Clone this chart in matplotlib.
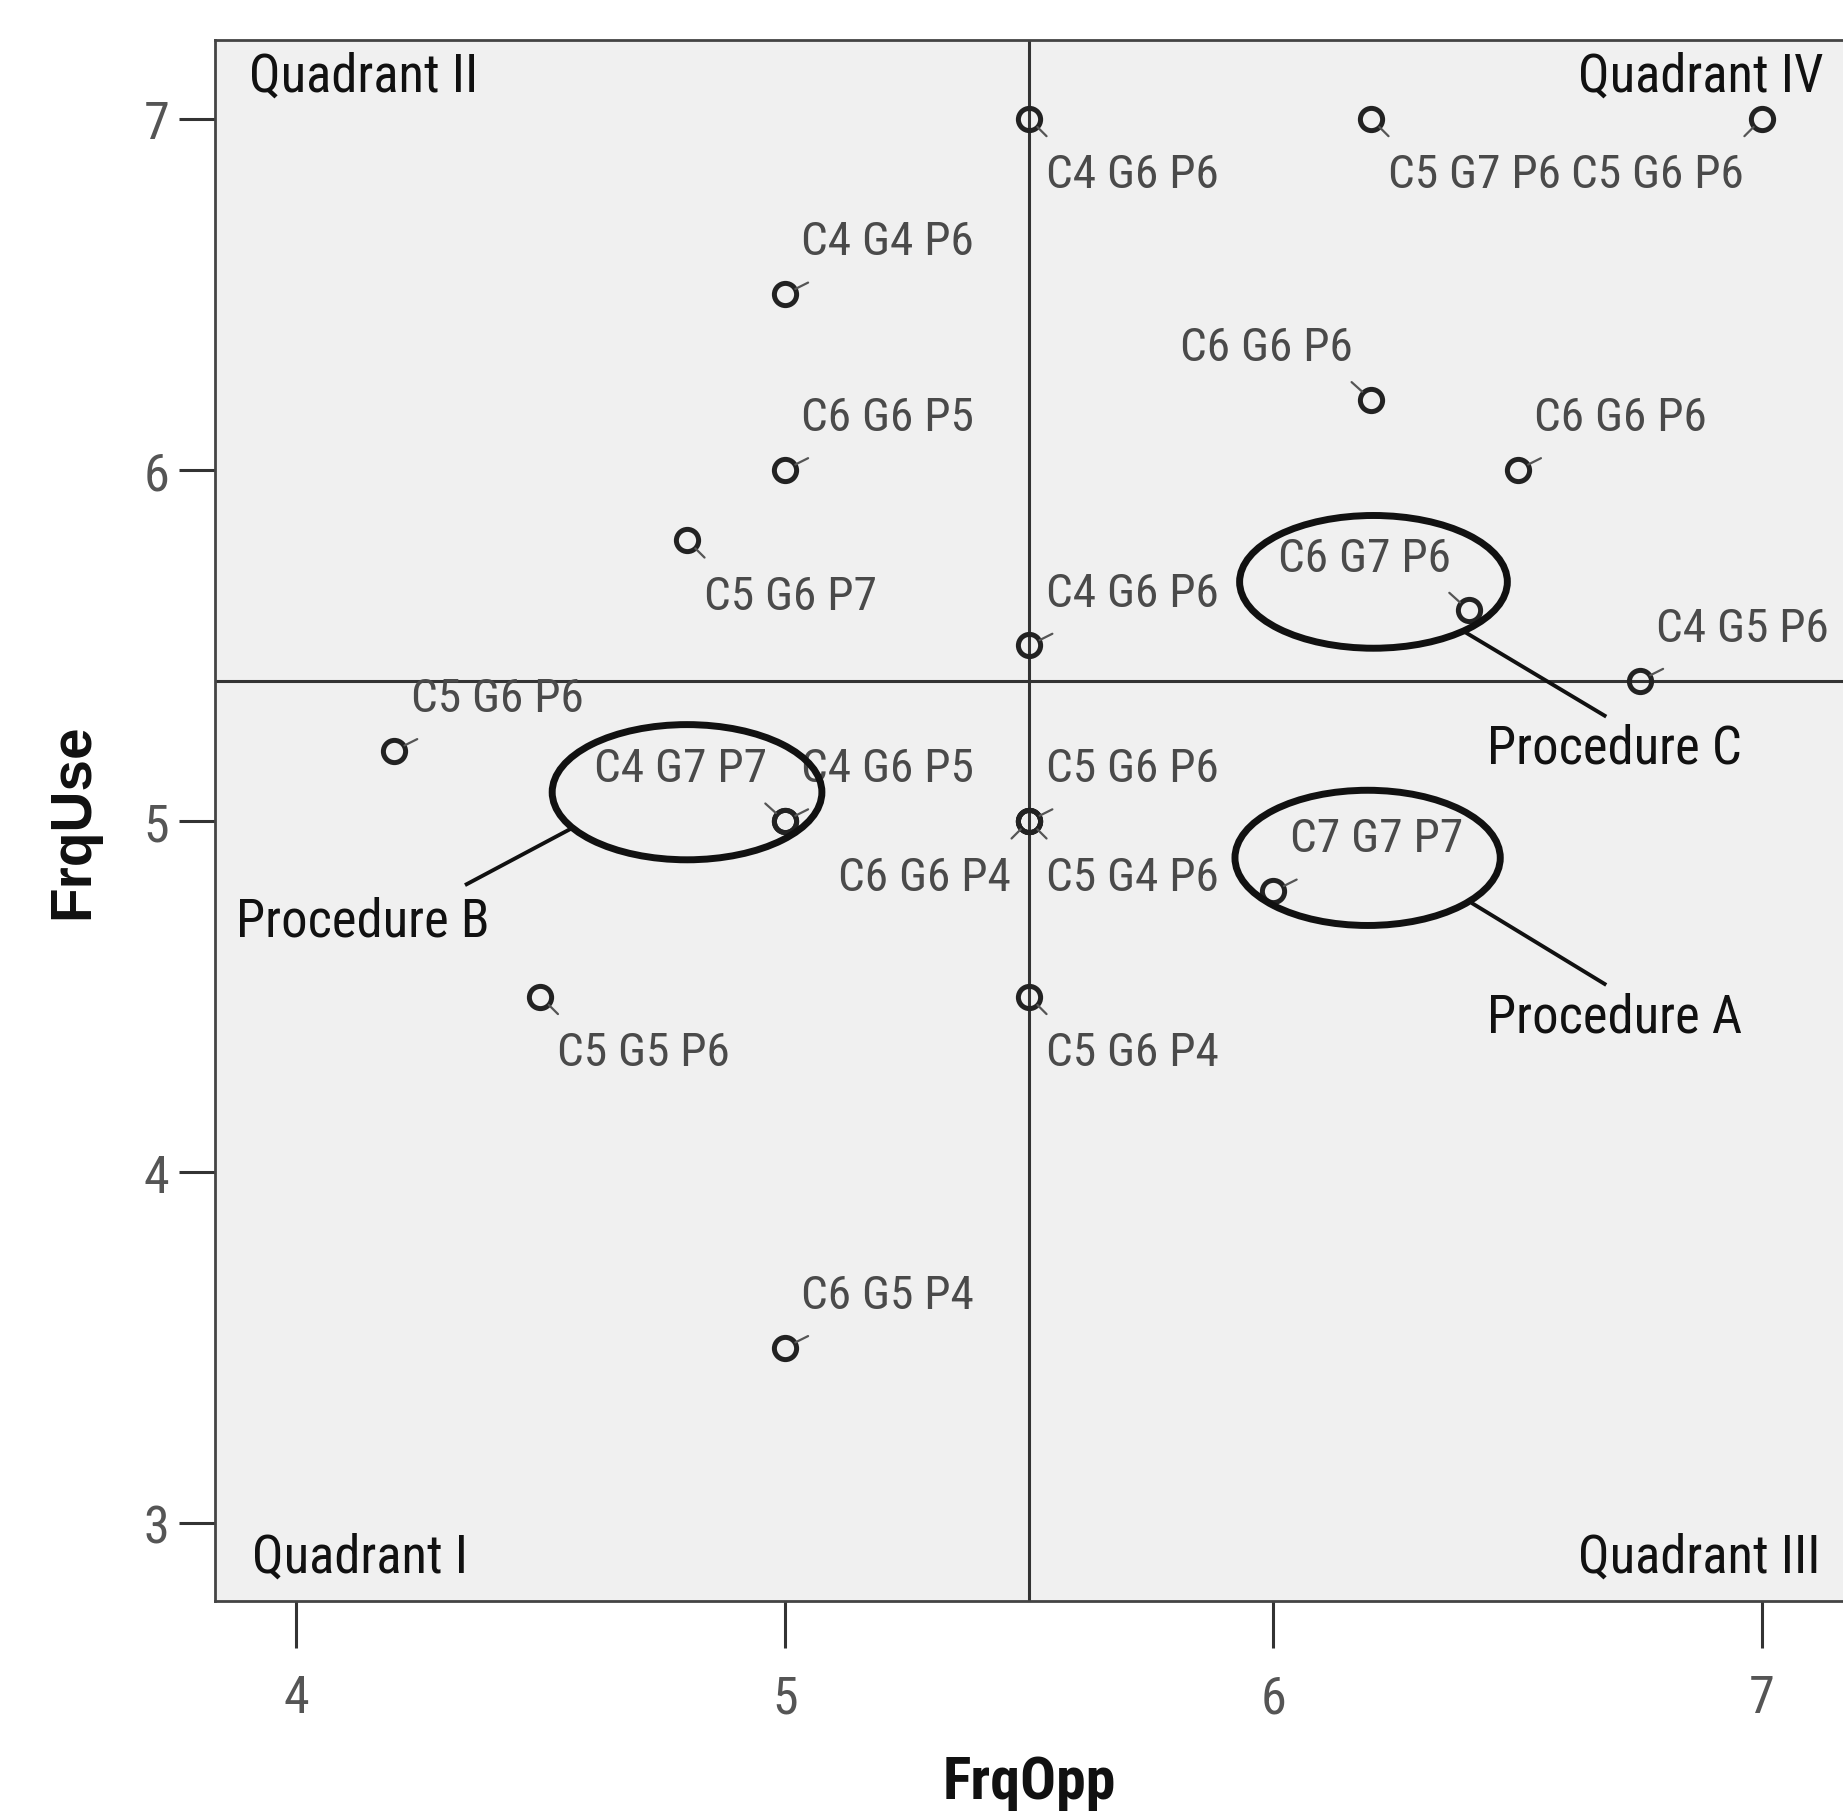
import matplotlib
matplotlib.use("Agg")
import matplotlib.pyplot as plt
from matplotlib import font_manager
from matplotlib.font_manager import FontProperties
from matplotlib.textpath import TextPath
from matplotlib.patches import Ellipse

# reference text is a condensed Arial-like face; use a narrow family if one is installed
entries = font_manager.fontManager.ttflist
names = {f.name for f in entries}
narrow = None
for cand in ['Liberation Sans Narrow', 'Arial Narrow', 'Roboto Condensed',
             'Open Sans Condensed', 'DejaVu Sans Condensed']:
    if cand in names:
        narrow = cand
        break
stretch = 'normal'
if narrow is None:
    if any(f.name == 'DejaVu Sans' and str(f.stretch) in ('condensed', '400', 'semi-condensed')
           for f in entries):
        narrow, stretch = 'DejaVu Sans', 'condensed'
    else:
        narrow = 'Liberation Sans'
plt.rcParams['font.family'] = [narrow, 'DejaVu Sans']
plt.rcParams['font.stretch'] = stretch


def fit_size(s, target_px, family=narrow, weight='normal'):
    # font size (pt) whose ink width is target_px at dpi 100
    fp = FontProperties(family=family, weight=weight, stretch=stretch)
    w = TextPath((0, 0), s, size=10, prop=fp).get_extents().width
    return 10 * target_px * 0.72 / w


# -------------------- Data --------------------
frq_opp = [5.5, 6.2, 7.0, 5.0, 6.2, 5.0, 6.5, 4.8, 6.4, 5.5, 6.75,
           4.2, 5.0, 5.0, 5.5, 5.5, 5.5, 6.0, 4.5, 5.5, 5.0]
frq_use = [7.0, 7.0, 7.0, 6.5, 6.2, 6.0, 6.0, 5.8, 5.6, 5.5, 5.4,
           5.2, 5.0, 5.0, 5.0, 5.0, 5.0, 4.8, 4.5, 4.5, 3.5]
labels = ['C4 G6 P6', 'C5 G7 P6', 'C5 G6 P6', 'C4 G4 P6', 'C6 G6 P6',
          'C6 G6 P5', 'C6 G6 P6', 'C5 G6 P7', 'C6 G7 P6', 'C4 G6 P6',
          'C4 G5 P6', 'C5 G6 P6', 'C4 G7 P7', 'C4 G6 P5', 'C5 G6 P6',
          'C6 G6 P4', 'C5 G4 P6', 'C7 G7 P7', 'C5 G5 P6', 'C5 G6 P4',
          'C6 G5 P4']
# where each label sits around its point: u/l = above/below, r/l = right/left
label_side = ['lr', 'lr', 'll', 'ur', 'ul', 'ur', 'ur', 'lr', 'ul', 'ur',
              'ur', 'ur', 'ul', 'ur', 'ur', 'll', 'lr', 'ur', 'lr', 'lr',
              'ur']

opp_cut = 5.5
use_cut = 5.4

x_ticks = [4, 5, 6, 7]
y_ticks = [3, 4, 5, 6, 7]

quadrants = ['Quadrant II', 'Quadrant IV', 'Quadrant I', 'Quadrant III']

# callouts: name, ellipse centre/size, leader line, text anchor
procedures = ['Procedure B', 'Procedure C', 'Procedure A']
ell_centre = [(4.80, 5.082), (6.205, 5.681), (6.193, 4.895)]
ell_size = [(0.552, 0.385), (0.548, 0.378), (0.543, 0.385)]
leader_from = [(4.565, 4.98), (6.397, 5.534), (6.409, 4.764)]
leader_to = [(4.349, 4.82), (6.678, 5.30), (6.678, 4.536)]
proc_text = [(3.877, 4.714), (6.438, 5.209), (6.438, 4.443)]

# -------------------- Sizes --------------------
fs_lab = fit_size('C4 G6 P6', 168)
fs_big = (fit_size('Quadrant II', 222) + fit_size('Procedure C', 248)) / 2
fs_tick = fs_lab * 1.1
fs_xlab = fit_size('FrqOpp', 168, weight='bold')
fs_ylab = fit_size('FrqUse', 190, family='Liberation Sans', weight='bold')

# -------------------- Figure --------------------
fig = plt.figure(figsize=(18.43, 18.15), dpi=100)
ax = fig.add_axes([0.1167, 0.1174, 0.8833, 0.86])
ax.set_facecolor('#f0f0f0')
ax.set_xlim(3.834, 7.166)
ax.set_ylim(2.779, 7.224)

for side in ['left', 'bottom', 'top']:
    ax.spines[side].set_color('#444444')
    ax.spines[side].set_linewidth(2)
ax.spines['right'].set_visible(False)

ax.axvline(opp_cut, color='#333333', lw=2.2, zorder=1)
ax.axhline(use_cut, color='#333333', lw=2.2, zorder=1)

ax.plot(frq_opp, frq_use, 'o', ms=16, mfc='none', mec='#222222', mew=3.6, zorder=3)

offs = {'ur': (12, 38), 'lr': (12, -40), 'ul': (-13, 38), 'll': (-13, -40)}
ticks = {'ur': (12, 6), 'lr': (9, -9), 'ul': (-10, 9), 'll': (-9, -9)}
for x, y, txt, s in zip(frq_opp, frq_use, labels, label_side):
    dx, dy = offs[s]
    ax.annotate(txt, (x, y), xytext=(dx, dy), textcoords='offset points',
                ha='left' if s[1] == 'r' else 'right', va='center',
                fontsize=fs_lab, color='#4a4a4a', zorder=4)
    tx, ty = ticks[s]
    ax.annotate('', (x, y), xytext=(tx * 1.4, ty * 1.4), textcoords='offset points',
                arrowprops=dict(arrowstyle='-', color='#555555', lw=1.6,
                                shrinkA=0, shrinkB=8.5), zorder=3)

# quadrant names in the corners
ax.text(3.904, 7.12, quadrants[0], fontsize=fs_big, color='#111111', ha='left', va='center')
ax.text(7.127, 7.12, quadrants[1], fontsize=fs_big, color='#111111', ha='right', va='center')
ax.text(3.909, 2.903, quadrants[2], fontsize=fs_big, color='#111111', ha='left', va='center')
ax.text(7.120, 2.903, quadrants[3], fontsize=fs_big, color='#111111', ha='right', va='center')

for name, c, wh, p0, p1, pt in zip(procedures, ell_centre, ell_size,
                                    leader_from, leader_to, proc_text):
    ax.add_patch(Ellipse(c, wh[0], wh[1], fill=False, ec='#111111', lw=5, zorder=5))
    ax.plot([p0[0], p1[0]], [p0[1], p1[1]], color='#111111', lw=2.8, zorder=5)
    ax.text(pt[0], pt[1], name, fontsize=fs_big, color='#111111', ha='left', va='center')

ax.set_xticks(x_ticks)
ax.set_yticks(y_ticks)
ax.tick_params(axis='x', length=34, width=2.2, pad=18, labelsize=fs_tick,
               color='#333333', labelcolor='#555555')
ax.tick_params(axis='y', length=26, width=2.2, pad=7, labelsize=fs_tick,
               color='#333333', labelcolor='#555555')

ax.set_xlabel('FrqOpp', fontsize=fs_xlab, fontweight='bold', color='#111111')
ax.xaxis.set_label_coords(0.5, -0.116)
ax.xaxis.label.set_va('center')
ax.set_ylabel('FrqUse', fontsize=fs_ylab, fontweight='bold', color='#111111',
              family=['Liberation Sans', 'DejaVu Sans'], stretch='normal')
ax.yaxis.set_label_coords(-0.087, 0.5)
ax.yaxis.label.set_va('center')

fig.savefig('out.png', dpi=100)
